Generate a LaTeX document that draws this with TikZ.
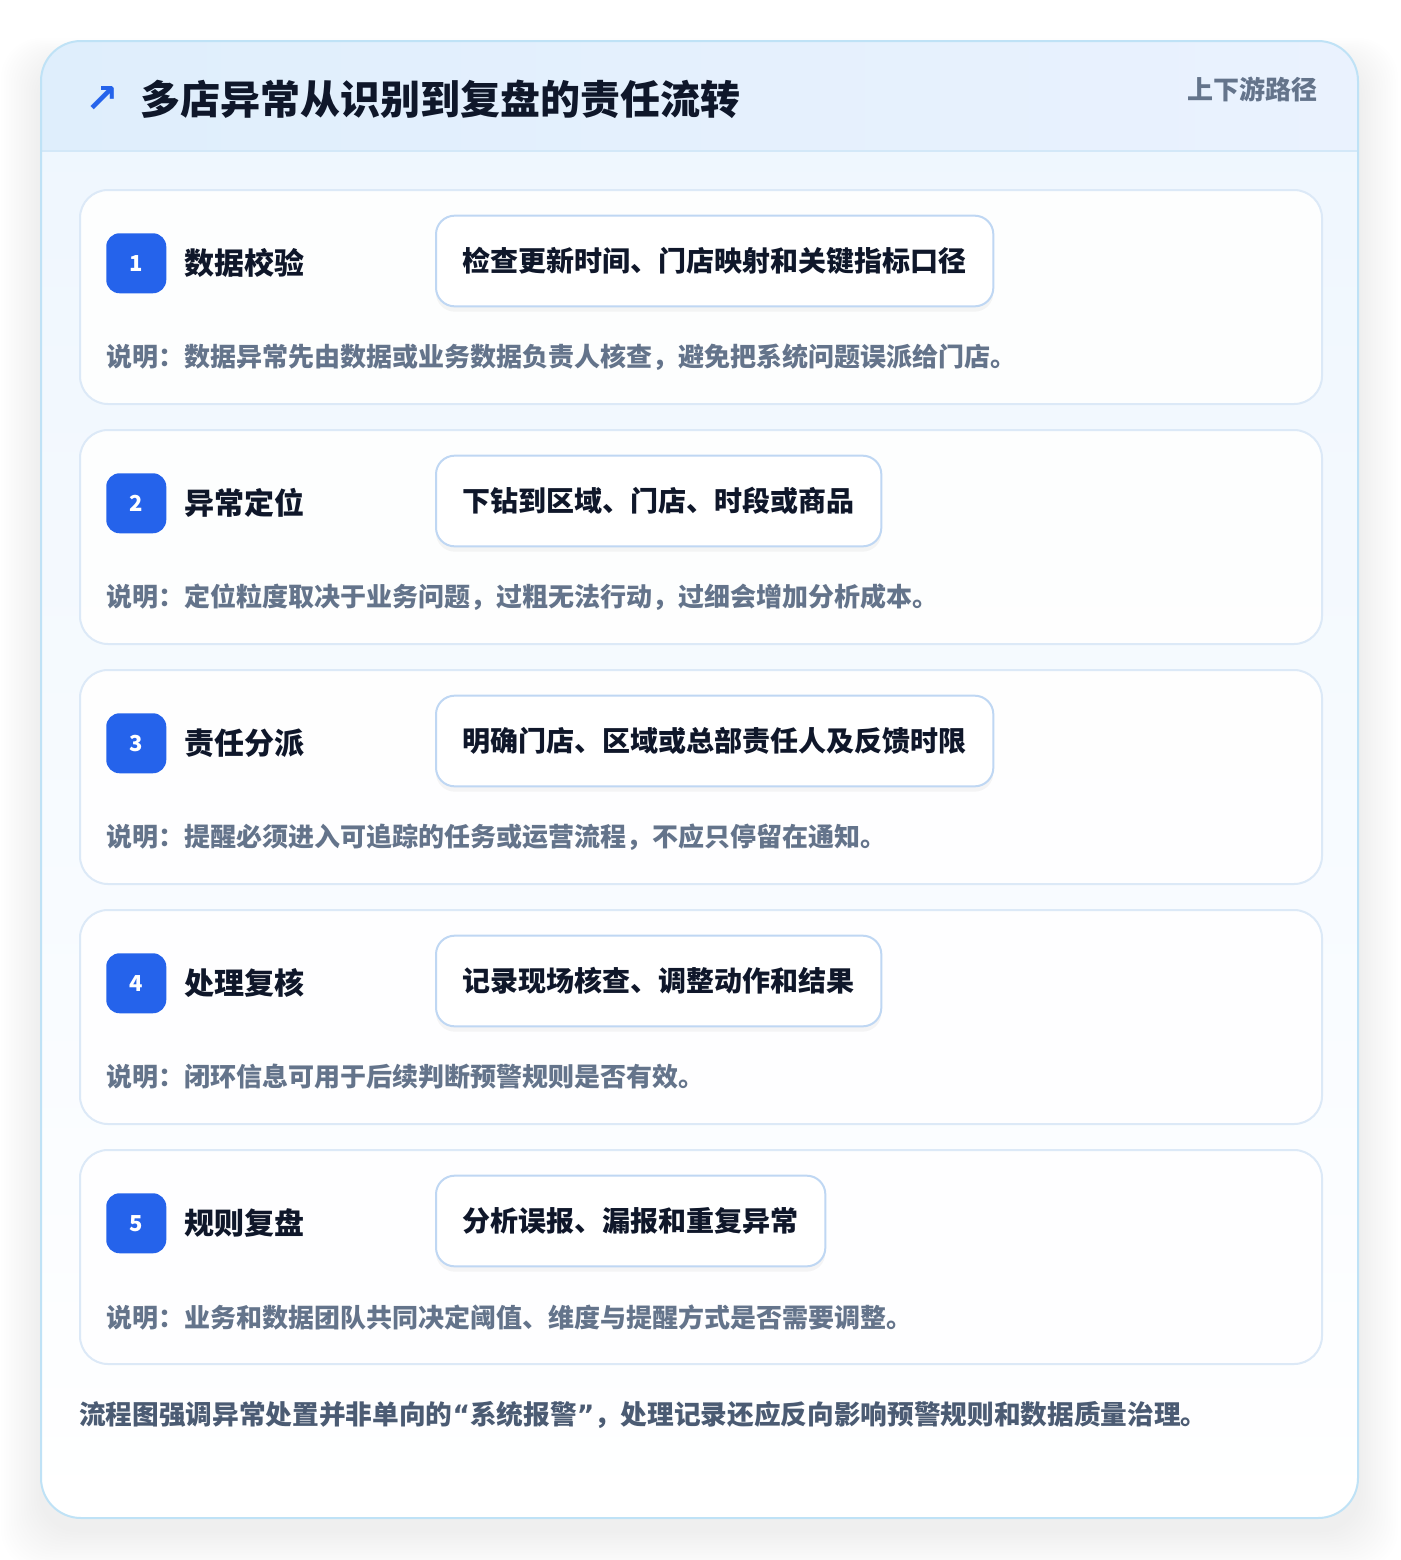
\documentclass[tikz,border=0pt]{standalone}
\usepackage{fontspec}
\setmainfont{Noto Sans CJK SC}
\newfontfamily\symfont{DejaVu Sans}
\usetikzlibrary{positioning,shadows}

\definecolor{bodytop}{HTML}{EEF6FE}
\definecolor{headL}{HTML}{DFEEFC}
\definecolor{headR}{HTML}{EAF2FE}
\definecolor{outline}{HTML}{BFE2F6}
\definecolor{headline}{HTML}{D3E8F8}
\definecolor{cardline}{HTML}{DCE9F7}
\definecolor{pillline}{HTML}{BFD7F3}
\definecolor{badgeblue}{HTML}{2563EB}
\definecolor{ink}{HTML}{0F172A}
\definecolor{mute}{HTML}{64748B}
\definecolor{footink}{HTML}{4B5B73}

\newcommand{\qmark}[1]{{\symfont #1}}

\tikzset{
  stepcard/.style={draw=cardline, line width=1.5pt, fill=white, fill opacity=0.9,
    text opacity=1, rounded corners=21pt, minimum width=931.5pt, minimum height=160.5pt,
    inner sep=0pt},
  badge/.style={fill=badgeblue, text=white, rounded corners=10pt, minimum size=45pt,
    inner sep=0pt, font=\fontsize{16.5pt}{18pt}\selectfont\bfseries},
  stephead/.style={text=ink, inner sep=0pt, font=\fontsize{22.5pt}{26pt}\selectfont\bfseries},
  pill/.style={draw=pillline, line width=1.5pt, fill=white, rounded corners=14pt,
    minimum height=68pt, inner xsep=20pt, inner ysep=0pt, text=ink,
    font=\fontsize{21pt}{24pt}\selectfont\bfseries,
    drop shadow={shadow xshift=0pt, shadow yshift=-4pt, opacity=0.04, fill=black}},
  note/.style={text=mute, inner sep=0pt, font=\fontsize{19.5pt}{22pt}\selectfont\bfseries},
}

\begin{document}
\begin{tikzpicture}[x=0.75pt, y=-0.75pt]
\useasboundingbox[fill=white] (0,0) rectangle (1400,1560);

% soft shadow round the panel
\foreach \s in {1,...,16}
  \fill[black, opacity=0.005, rounded corners=30pt] (41-2.5*\s,62-1.5*\s) rectangle (1358+2.5*\s,1530+2.5*\s);

% panel, header band and frame
\shade[top color=bodytop, bottom color=white, rounded corners=30pt] (41,41) rectangle (1358,1518);
\begin{scope}
  \clip[rounded corners=30pt] (41,41) rectangle (1358,1518);
  \shade[left color=headL, right color=headR] (41,41) rectangle (1358,151);
\end{scope}
\draw[headline, line width=1.5pt] (41,151) -- (1358,151);
\draw[outline, line width=1.5pt, rounded corners=30pt] (41,41) rectangle (1358,1518);

\node[text=badgeblue, inner sep=0pt, font=\symfont\bfseries\fontsize{30pt}{32pt}\selectfont] (icon) at (102,99) {↗};
\node[anchor=west, text=ink, inner sep=0pt, font=\fontsize{30pt}{34pt}\selectfont\bfseries]
  (title) at (140,99) {多店异常从识别到复盘的责任流转};
\node[anchor=east, text=mute, inner sep=0pt, font=\fontsize{19.5pt}{22pt}\selectfont\bfseries]
  (tag) at (1318,89) {上下游路径};

% steps
\foreach \n/\head/\pill/\note in {
  1/数据校验/检查更新时间、门店映射和关键指标口径/说明：数据异常先由数据或业务数据负责人核查，避免把系统问题误派给门店。,
  2/异常定位/下钻到区域、门店、时段或商品/说明：定位粒度取决于业务问题，过粗无法行动，过细会增加分析成本。,
  3/责任分派/明确门店、区域或总部责任人及反馈时限/说明：提醒必须进入可追踪的任务或运营流程，不应只停留在通知。,
  4/处理复核/记录现场核查、调整动作和结果/说明：闭环信息可用于后续判断预警规则是否有效。,
  5/规则复盘/分析误报、漏报和重复异常/说明：业务和数据团队共同决定阈值、维度与提醒方式是否需要调整。}{
  \pgfmathsetmacro\top{189+(\n-1)*240}
  \node[stepcard, anchor=north west] (card\n) at (79,\top) {};
  \node[badge, anchor=north west] (badge\n) at (106,\top+44) {\n};
  \node[stephead, right=13.5pt of badge\n] (head\n) {\head};
  \node[pill, anchor=west] (pill\n) at (435,\top+72) {\pill};
  \node[note, anchor=west] (note\n) at (106,\top+168) {\note};
}

\node[anchor=west, text=footink, inner sep=0pt, font=\fontsize{20pt}{23pt}\selectfont\bfseries]
  (summary) at (79,1415) {流程图强调异常处置并非单向的\qmark{“}系统报警\qmark{”}，处理记录还应反向影响预警规则和数据质量治理。};

\end{tikzpicture}
\end{document}
